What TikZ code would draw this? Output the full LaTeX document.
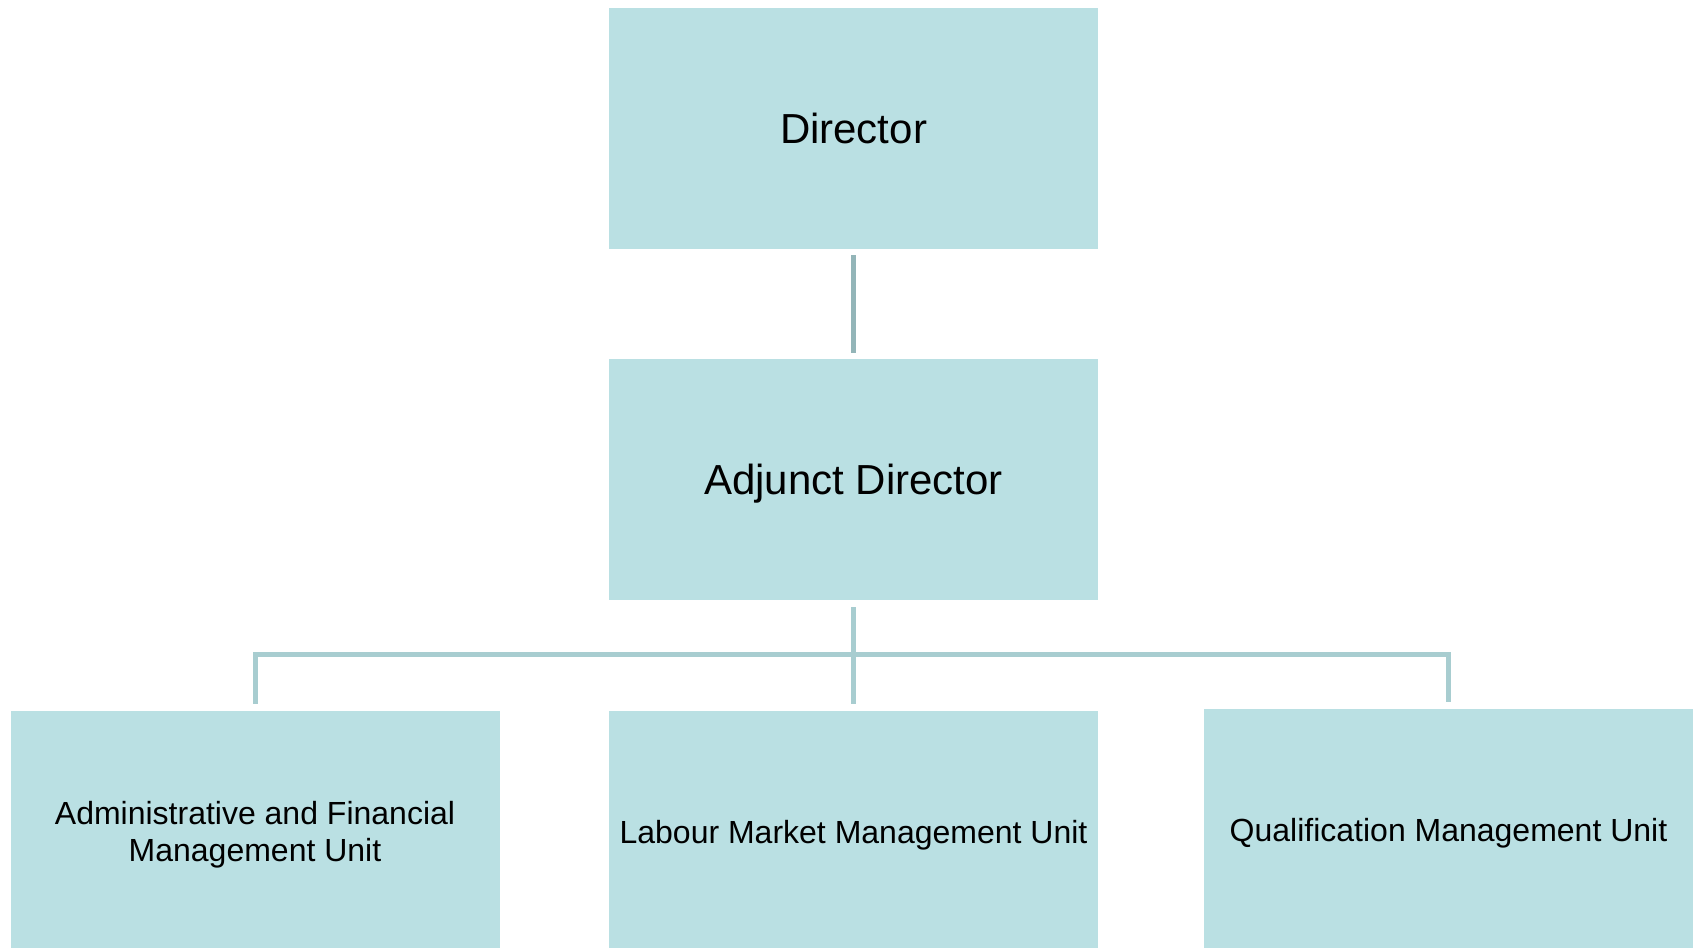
\documentclass[tikz,border=0pt]{standalone}
\usepackage{fontspec}
\setmainfont{Liberation Sans}
\definecolor{boxfill}{HTML}{BAE0E3}
\definecolor{linedark}{HTML}{93B5B8}
\definecolor{linelight}{HTML}{A8CDD0}
\begin{document}
\begin{tikzpicture}[x=1pt,y=1pt,
  unit/.style={fill=boxfill, inner sep=0pt, minimum width=489pt, minimum height=241pt, align=center, text=black, text depth=0pt},
  big/.style={font=\fontsize{42}{50}\selectfont},
  small/.style={font=\fontsize{32}{37}\selectfont},
  conndark/.style={line width=5pt, draw=linedark},
  connlight/.style={line width=5pt, draw=linelight}]
\useasboundingbox (0,0) rectangle (1696,-947);
\clip (0,0) rectangle (1696,-947);
\fill[white] (0,0) rectangle (1696,-947);
\node[unit,big] (dir) at (853.5,-128.3) {Director};
\node[unit,big] (adj) at (853.5,-479.5) {Adjunct Director};
\node[unit,small] (afm) at (255,-831.5) {Administrative and Financial\\Management Unit};
\node[unit,small] (lmm) at (853.5,-831.5) {Labour Market Management Unit};
\node[unit,small] (qmu) at (1448.5,-829.5) {Qualification Management Unit};
\coordinate (bus) at (853.5,-654);
\draw[conndark] ([yshift=-6pt]dir.south) -- ([yshift=6pt]adj.north);
\draw[connlight] ([yshift=-7pt]adj.south) -- ([yshift=7pt]lmm.north);
\draw[connlight] ([yshift=7pt]afm.north) |- (bus) -| ([yshift=7pt]qmu.north);
\end{tikzpicture}
\end{document}
